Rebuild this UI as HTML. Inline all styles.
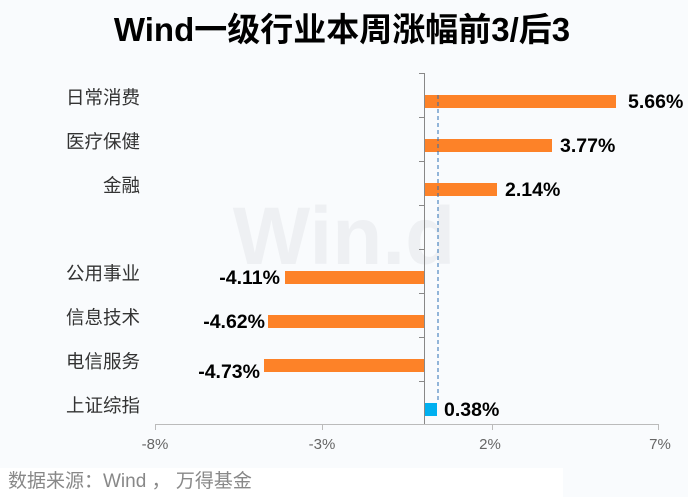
<!DOCTYPE html>
<html><head><meta charset="utf-8"><style>
html,body{margin:0;padding:0;background:#f9fbfd;}
svg{display:block;font-family:"Liberation Sans","Noto Sans CJK SC",sans-serif;}
</style></head><body>
<svg width="688" height="497" xmlns="http://www.w3.org/2000/svg">
<rect width="688" height="497" fill="#f9fbfd"/>
<rect x="0" y="468" width="563" height="29" fill="#ffffff"/>
<text x="342" y="41" text-anchor="middle" font-size="33" font-weight="bold" fill="#000">Wind一级行业本周涨幅前3/后3</text>
<text x="344" y="264" text-anchor="middle" font-size="82" font-weight="bold" fill="#eceef1" opacity="0.8">Win.d</text>
<g fill="#333" font-size="18.5">
<text x="140" y="104" text-anchor="end">日常消费</text>
<text x="140" y="148" text-anchor="end">医疗保健</text>
<text x="140" y="192" text-anchor="end">金融</text>
<text x="140" y="280" text-anchor="end">公用事业</text>
<text x="140" y="324" text-anchor="end">信息技术</text>
<text x="140" y="368" text-anchor="end">电信服务</text>
<text x="140" y="412" text-anchor="end">上证综指</text>
</g>
<g fill="#fd8228">
<rect x="425" y="95" width="191" height="13"/>
<rect x="425" y="139" width="127" height="13"/>
<rect x="425" y="183" width="72" height="13"/>
<rect x="285" y="271" width="139" height="13"/>
<rect x="268" y="315" width="156" height="13"/>
<rect x="264" y="359" width="160" height="13"/>
</g>
<rect x="425" y="403" width="12" height="13" fill="#00b0f0"/>
<line x1="438" y1="95" x2="438" y2="403" stroke="#2a6fb5" stroke-width="1" stroke-dasharray="4,3"/>
<g stroke="#888" stroke-width="1">
<line x1="424.5" y1="73" x2="424.5" y2="424"/>
<line x1="419" y1="73.5" x2="424" y2="73.5"/>
<line x1="419" y1="117.5" x2="424" y2="117.5"/>
<line x1="419" y1="161.5" x2="424" y2="161.5"/>
<line x1="419" y1="205.5" x2="424" y2="205.5"/>
<line x1="419" y1="249.5" x2="424" y2="249.5"/>
<line x1="419" y1="293.5" x2="424" y2="293.5"/>
<line x1="419" y1="337.5" x2="424" y2="337.5"/>
<line x1="419" y1="381.5" x2="424" y2="381.5"/>
</g>
<g stroke="#bbb" stroke-width="1">
<line x1="155" y1="424.5" x2="659" y2="424.5"/>
<line x1="155.5" y1="424" x2="155.5" y2="430"/>
<line x1="322.5" y1="424" x2="322.5" y2="430"/>
<line x1="492.5" y1="424" x2="492.5" y2="430"/>
<line x1="658.5" y1="424" x2="658.5" y2="430"/>
</g>
<g fill="#666" font-size="15" text-anchor="middle">
<text x="155" y="449">-8%</text>
<text x="322" y="449">-3%</text>
<text x="490" y="449">2%</text>
<text x="660" y="449">7%</text>
</g>
<g font-size="19.5" font-weight="bold" fill="#000">
<text x="628" y="108">5.66%</text>
<text x="560" y="152">3.77%</text>
<text x="505" y="196">2.14%</text>
<text x="280" y="284" text-anchor="end">-4.11%</text>
<text x="265" y="328" text-anchor="end">-4.62%</text>
<text x="260" y="378" text-anchor="end">-4.73%</text>
<text x="444" y="416">0.38%</text>
</g>
<text x="8" y="487" font-size="19" fill="#888">数据来源：Wind ， 万得基金</text>
</svg>
</body></html>
